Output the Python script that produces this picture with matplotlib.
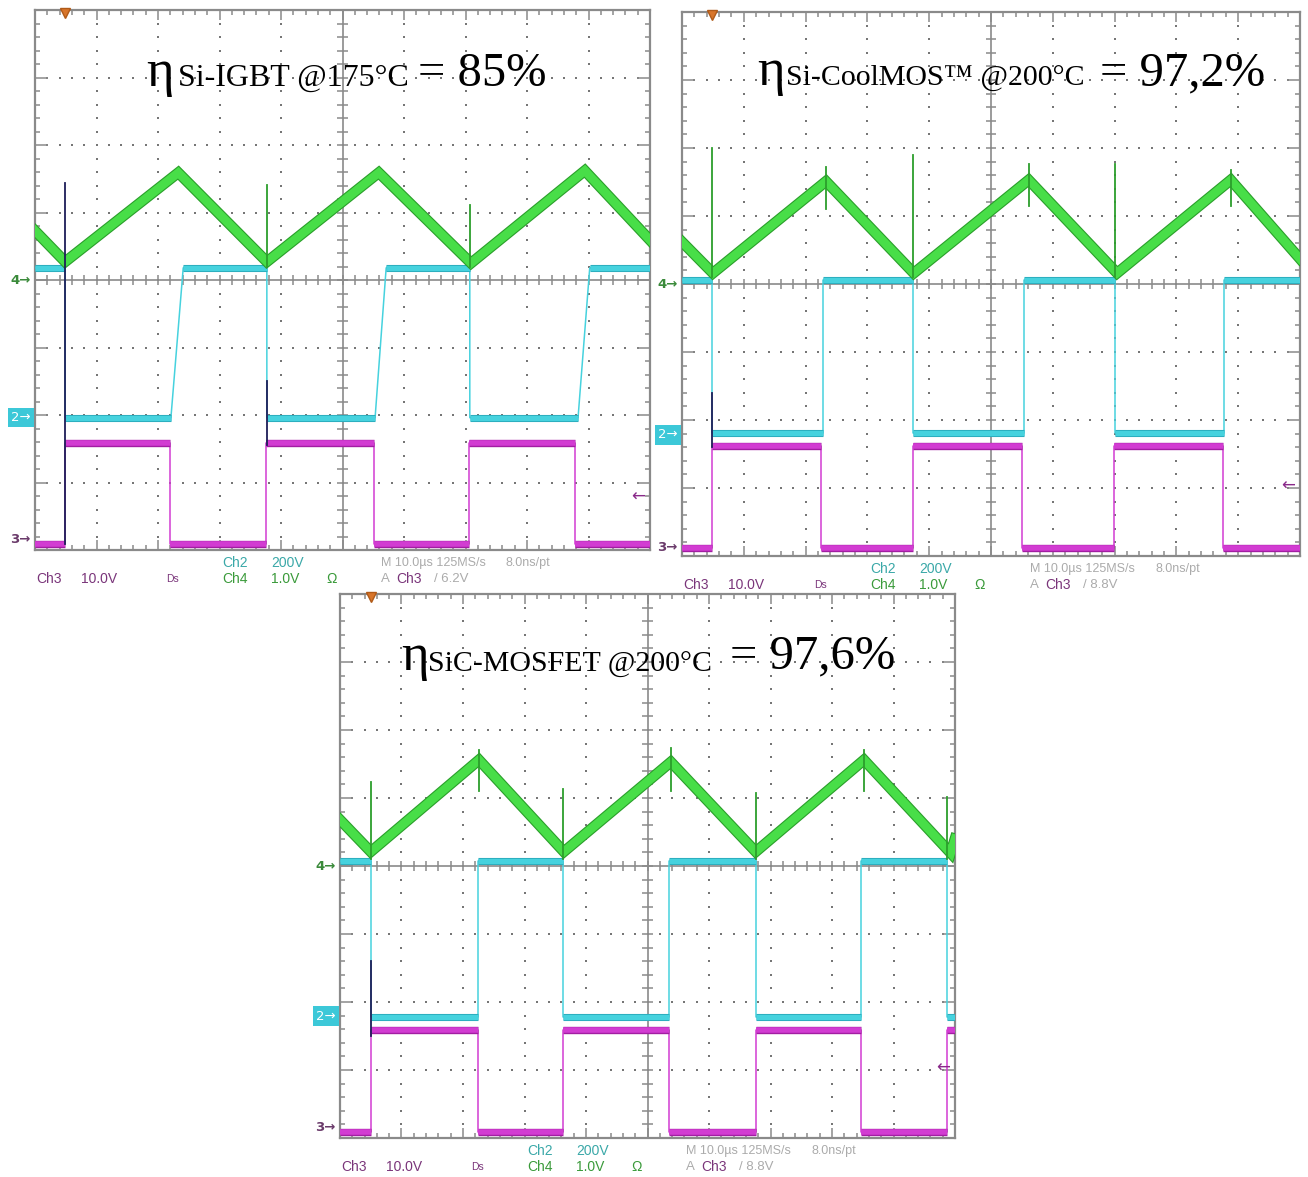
import numpy as np
import matplotlib
matplotlib.use("Agg")
import matplotlib.pyplot as plt
import matplotlib.patheffects as pe
from matplotlib.collections import LineCollection

W, H, DPI = 1308, 1177, 100

# ---------------- DATA (graticule divisions: x 0..10, y 0..8) ----------------
# Panel 1 : Si-IGBT
P1_GREEN_X = [0, 0.49, 2.33, 3.77, 5.59, 7.09, 8.94, 10]
P1_GREEN_Y = [4.73, 4.27, 5.59, 4.27, 5.59, 4.25, 5.62, 4.59]
P1_CYAN_X = [0, 0.49, 0.49, 2.21, 2.41, 3.77, 3.77, 5.53, 5.71, 7.07, 7.07, 8.83, 9.02, 10]
P1_CYAN_Y = [4.18, 4.18, 1.96, 1.96, 4.18, 4.18, 1.96, 1.96, 4.18, 4.18, 1.96, 1.96, 4.18, 4.18]
P1_MAG_X = [0, 0.49, 0.49, 2.20, 2.20, 3.76, 3.76, 5.51, 5.51, 7.06, 7.06, 8.78, 8.78, 10]
P1_MAG_Y = [0.09, 0.09, 1.59, 1.59, 0.09, 0.09, 1.59, 1.59, 0.09, 0.09, 1.59, 1.59, 0.09, 0.09]
P1_SPIKE_X = [0.49, 3.77, 7.07, 3.77]
P1_SPIKE_TOP = [5.44, 5.41, 5.11, 2.50]
P1_SPIKE_BOT = [0.09, 4.20, 4.20, 1.55]
P1_SPIKE_COL = ["dark", "green", "green", "dark"]

# Panel 2 : Si-CoolMOS
P2_GREEN_X = [0, 0.50, 2.33, 3.75, 5.61, 7.04, 8.88, 10]
P2_GREEN_Y = [4.62, 4.16, 5.51, 4.16, 5.53, 4.16, 5.53, 4.37]
P2_CYAN_X = [0, 0.49, 0.49, 2.28, 2.28, 3.74, 3.74, 5.53, 5.53, 7.01, 7.01, 8.77, 8.77, 10]
P2_CYAN_Y = [4.06, 4.06, 1.81, 1.81, 4.06, 4.06, 1.81, 1.81, 4.06, 4.06, 1.81, 1.81, 4.06, 4.06]
P2_MAG_X = [0, 0.49, 0.49, 2.25, 2.25, 3.74, 3.74, 5.50, 5.50, 6.99, 6.99, 8.75, 8.75, 10]
P2_MAG_Y = [0.12, 0.12, 1.62, 1.62, 0.12, 0.12, 1.62, 1.62, 0.12, 0.12, 1.62, 1.62, 0.12, 0.12]
P2_SPIKE_X = [0.49, 3.74, 7.01, 2.33, 5.61, 8.88, 0.49]
P2_SPIKE_TOP = [6.00, 5.90, 5.76, 5.72, 5.76, 5.68, 2.40]
P2_SPIKE_BOT = [4.10, 4.10, 4.10, 5.10, 5.15, 5.15, 1.60]
P2_SPIKE_COL = ["green", "green", "green", "green", "green", "green", "dark"]

# Panel 3 : SiC-MOSFET
P3_GREEN_X = [0, 0.50, 2.26, 3.64, 5.38, 6.76, 8.52, 9.93, 10]
P3_GREEN_Y = [4.68, 4.21, 5.56, 4.21, 5.53, 4.21, 5.56, 4.19, 4.40]
P3_CYAN_X = [0, 0.50, 0.50, 2.24, 2.24, 3.63, 3.63, 5.35, 5.35, 6.76, 6.76, 8.47, 8.47, 9.87, 9.87, 10]
P3_CYAN_Y = [4.07, 4.07, 1.78, 1.78, 4.07, 4.07, 1.78, 1.78, 4.07, 4.07, 1.78, 1.78, 4.07, 4.07, 1.78, 1.78]
P3_MAG_X = [0, 0.50, 0.50, 2.24, 2.24, 3.63, 3.63, 5.35, 5.35, 6.76, 6.76, 8.47, 8.47, 9.87, 9.87, 10]
P3_MAG_Y = [0.09, 0.09, 1.59, 1.59, 0.09, 0.09, 1.59, 1.59, 0.09, 0.09, 1.59, 1.59, 0.09, 0.09, 1.59, 1.59]
P3_SPIKE_X = [0.50, 3.63, 6.76, 9.87, 2.26, 5.38, 8.52, 0.50]
P3_SPIKE_TOP = [5.24, 5.13, 5.07, 5.01, 5.70, 5.74, 5.70, 2.60]
P3_SPIKE_BOT = [4.10, 4.10, 4.10, 4.10, 5.10, 5.10, 5.10, 1.50]
P3_SPIKE_COL = ["green", "green", "green", "green", "green", "green", "green", "dark"]

# channel marker levels (divisions): Ch4 reference, Ch2 reference, Ch3 reference
P1_MARKERS = [4.00, 1.96, 0.15]
P2_MARKERS = [4.00, 1.78, 0.13]
P3_MARKERS = [4.00, 1.79, 0.15]
TRIGGER_X = [0.49, 0.49, 0.50]
ARROW_Y = [0.79, 1.04, 1.04]

# efficiency annotations
DEVICES = ["Si-IGBT @175°C", "Si-CoolMOS™ @200°C", "SiC-MOSFET @200°C"]
EFFICIENCIES = ["85%", "97,2%", "97,6%"]
TRIG_LEVELS = ["6.2V", "8.8V", "8.8V"]

# ---------------- layout (figure pixels) ----------------
PANEL_RECTS = [(35, 10, 615, 540), (682, 12, 618, 544), (340, 594, 615, 544)]
TITLE_POS = [((146, 86), (178, 86), (418, 86)),
             ((757, 85), (786, 85), (1100, 85)),
             ((401, 670), (428, 672), (730, 668))]
SUB_SIZES = [23, 21.5, 21.5]

GC = "#8a8a8a"
GREEN, GREEN_E = "#48de48", "#2a9e2a"
CYAN, CYAN_E = "#46d2de", "#2aaabb"
MAG, MAG_E = "#d23cd2", "#a21ea2"
DARK = "#1e1e58"
SERIF = ["Liberation Serif", "DejaVu Serif"]
SANS = ["Liberation Sans", "DejaVu Sans"]

fig = plt.figure(figsize=(W / DPI, H / DPI), dpi=DPI, facecolor="white")


def fx(x):
    return x / W


def fy(y):
    return 1 - y / H


def graticule(ax):
    ax.set_xlim(0, 10)
    ax.set_ylim(0, 8)
    ax.set_xticks([])
    ax.set_yticks([])
    for s in ax.spines.values():
        s.set_color(GC)
        s.set_linewidth(1.6)
    mx = np.arange(0, 10.001, 0.2)
    my = np.arange(0, 8.001, 0.2)
    for gx in range(1, 10):
        if gx != 5:
            ax.plot(np.full_like(my, gx), my, ls="none", marker="s", ms=1.6,
                    mew=0, color="#767676", zorder=1)
    for gy in range(1, 8):
        if gy != 4:
            ax.plot(mx, np.full_like(mx, gy), ls="none", marker="s", ms=1.6,
                    mew=0, color="#767676", zorder=1)
    ax.axvline(5, color=GC, lw=1.2, zorder=1)
    ax.axhline(4, color=GC, lw=1.2, zorder=1)
    segs = []
    tx, ty = 0.085, 0.075
    for x in mx:
        segs.append([(x, 4 - ty), (x, 4 + ty)])
        L = 0.15 if abs(x - round(x)) < 1e-6 else ty
        segs.append([(x, 0), (x, L)])
        segs.append([(x, 8), (x, 8 - L)])
    for y in my:
        segs.append([(5 - tx, y), (5 + tx, y)])
        L = 0.21 if abs(y - round(y)) < 1e-6 else tx
        segs.append([(0, y), (L, y)])
        segs.append([(10, y), (10 - L, y)])
    ax.add_collection(LineCollection(segs, colors=GC, linewidths=1.1, zorder=1))


def draw_levels(ax, xs, ys, color, edge, lw, z):
    ax.plot(xs, ys, color=color, lw=1.1, zorder=z)
    for i in range(len(xs) - 1):
        if ys[i] == ys[i + 1] and xs[i + 1] > xs[i]:
            ax.plot([xs[i], xs[i + 1]], [ys[i], ys[i + 1]], color=color, lw=lw,
                    solid_capstyle="butt", zorder=z,
                    path_effects=[pe.Stroke(linewidth=lw + 1.3, foreground=edge),
                                  pe.Normal()])


PANELS = [
    (P1_GREEN_X, P1_GREEN_Y, P1_CYAN_X, P1_CYAN_Y, P1_MAG_X, P1_MAG_Y,
     P1_SPIKE_X, P1_SPIKE_TOP, P1_SPIKE_BOT, P1_SPIKE_COL, P1_MARKERS),
    (P2_GREEN_X, P2_GREEN_Y, P2_CYAN_X, P2_CYAN_Y, P2_MAG_X, P2_MAG_Y,
     P2_SPIKE_X, P2_SPIKE_TOP, P2_SPIKE_BOT, P2_SPIKE_COL, P2_MARKERS),
    (P3_GREEN_X, P3_GREEN_Y, P3_CYAN_X, P3_CYAN_Y, P3_MAG_X, P3_MAG_Y,
     P3_SPIKE_X, P3_SPIKE_TOP, P3_SPIKE_BOT, P3_SPIKE_COL, P3_MARKERS),
]

for k, (rect, pdata) in enumerate(zip(PANEL_RECTS, PANELS)):
    x0, y0, w, h = rect
    gx, gy, cx, cy, mxs, mys, sx, stop, sbot, scol, marks = pdata
    ax = fig.add_axes([fx(x0), fy(y0 + h), w / W, h / H])
    ax.set_facecolor("white")
    graticule(ax)

    draw_levels(ax, cx, cy, CYAN, CYAN_E, 3.8, 3)
    draw_levels(ax, mxs, mys, MAG, MAG_E, 4.0, 3)
    ax.plot(gx, gy, color=GREEN, lw=6.2, zorder=4, solid_joinstyle="miter",
            path_effects=[pe.Stroke(linewidth=7.8, foreground=GREEN_E), pe.Normal()])
    for xx, t, b, c in zip(sx, stop, sbot, scol):
        ax.plot([xx, xx], [b, t], color=(DARK if c == "dark" else "#2c9e2c"),
                lw=1.3, zorder=5)

    # trigger marker
    ax.plot([TRIGGER_X[k]], [7.95], marker="v", ms=7, color="#d8752a",
            mec="#b05a18", clip_on=False, zorder=6)
    # channel markers
    ax.text(-0.07, marks[0], "4\u2192", ha="right", va="center", fontsize=9.5,
            color="#3a8a3a", fontweight="bold", clip_on=False)
    ax.text(-0.07, marks[1], "2\u2192", ha="right", va="center", fontsize=9.5,
            color="white",
            bbox=dict(boxstyle="square,pad=0.25", fc="#3cc8d8", ec="none"),
            clip_on=False)
    ax.text(-0.07, marks[2], "3\u2192", ha="right", va="center", fontsize=9.5,
            color="#6a3a6a", fontweight="bold", clip_on=False)
    ax.text(9.92, ARROW_Y[k], "\u2190", ha="right", va="center", fontsize=12,
            color="#8a2a8a")

    # efficiency annotation
    (ex, ey), (sx_, sy_), (qx, qy) = TITLE_POS[k]
    fig.text(fx(ex), fy(ey), "\u03b7", fontsize=38, family=SERIF, va="baseline",
             ha="left", color="black", zorder=10)
    fig.text(fx(sx_), fy(sy_), DEVICES[k], fontsize=SUB_SIZES[k], family=SERIF,
             va="baseline", ha="left", color="black", zorder=10)
    fig.text(fx(qx), fy(qy), "= " + EFFICIENCIES[k], fontsize=35, family=SERIF,
             va="baseline", ha="left", color="black", zorder=10)

    # scope readouts below the graticule
    sc = w / 615.0
    by = y0 + h
    row1, row2 = by + 13, by + 29
    lab = [
        (0, row2, "Ch3", "#7a357a", 10), (45, row2, "10.0V", "#7a357a", 10),
        (186, row1, "Ch2", "#3aa8a8", 10), (235, row1, "200V", "#3aa8a8", 10),
        (186, row2, "Ch4", "#3a9a3a", 10), (235, row2, "1.0V", "#3a9a3a", 10),
        (290, row2, "\u03a9", "#3a9a3a", 10),
        (345, row1, "M 10.0\u00b5s 125MS/s", "#ababab", 9),
        (470, row1, "8.0ns/pt", "#ababab", 9),
        (345, row2, "A", "#ababab", 9.5), (360, row2, "Ch3", "#7a357a", 10),
        (398, row2, "/ " + TRIG_LEVELS[k], "#ababab", 9.5),
    ]
    for dx, yy, s, c, fs in lab:
        fig.text(fx(x0 + 1 + dx * sc), fy(yy), s, fontsize=fs, family=SANS,
                 color=c, ha="left", va="center")
    fig.text(fx(x0 + 1 + 130 * sc), fy(row2), "Ds", fontsize=7.5, family=SANS,
             color="#7a357a", ha="left", va="center")

fig.savefig("out.png", dpi=DPI, facecolor="white")
